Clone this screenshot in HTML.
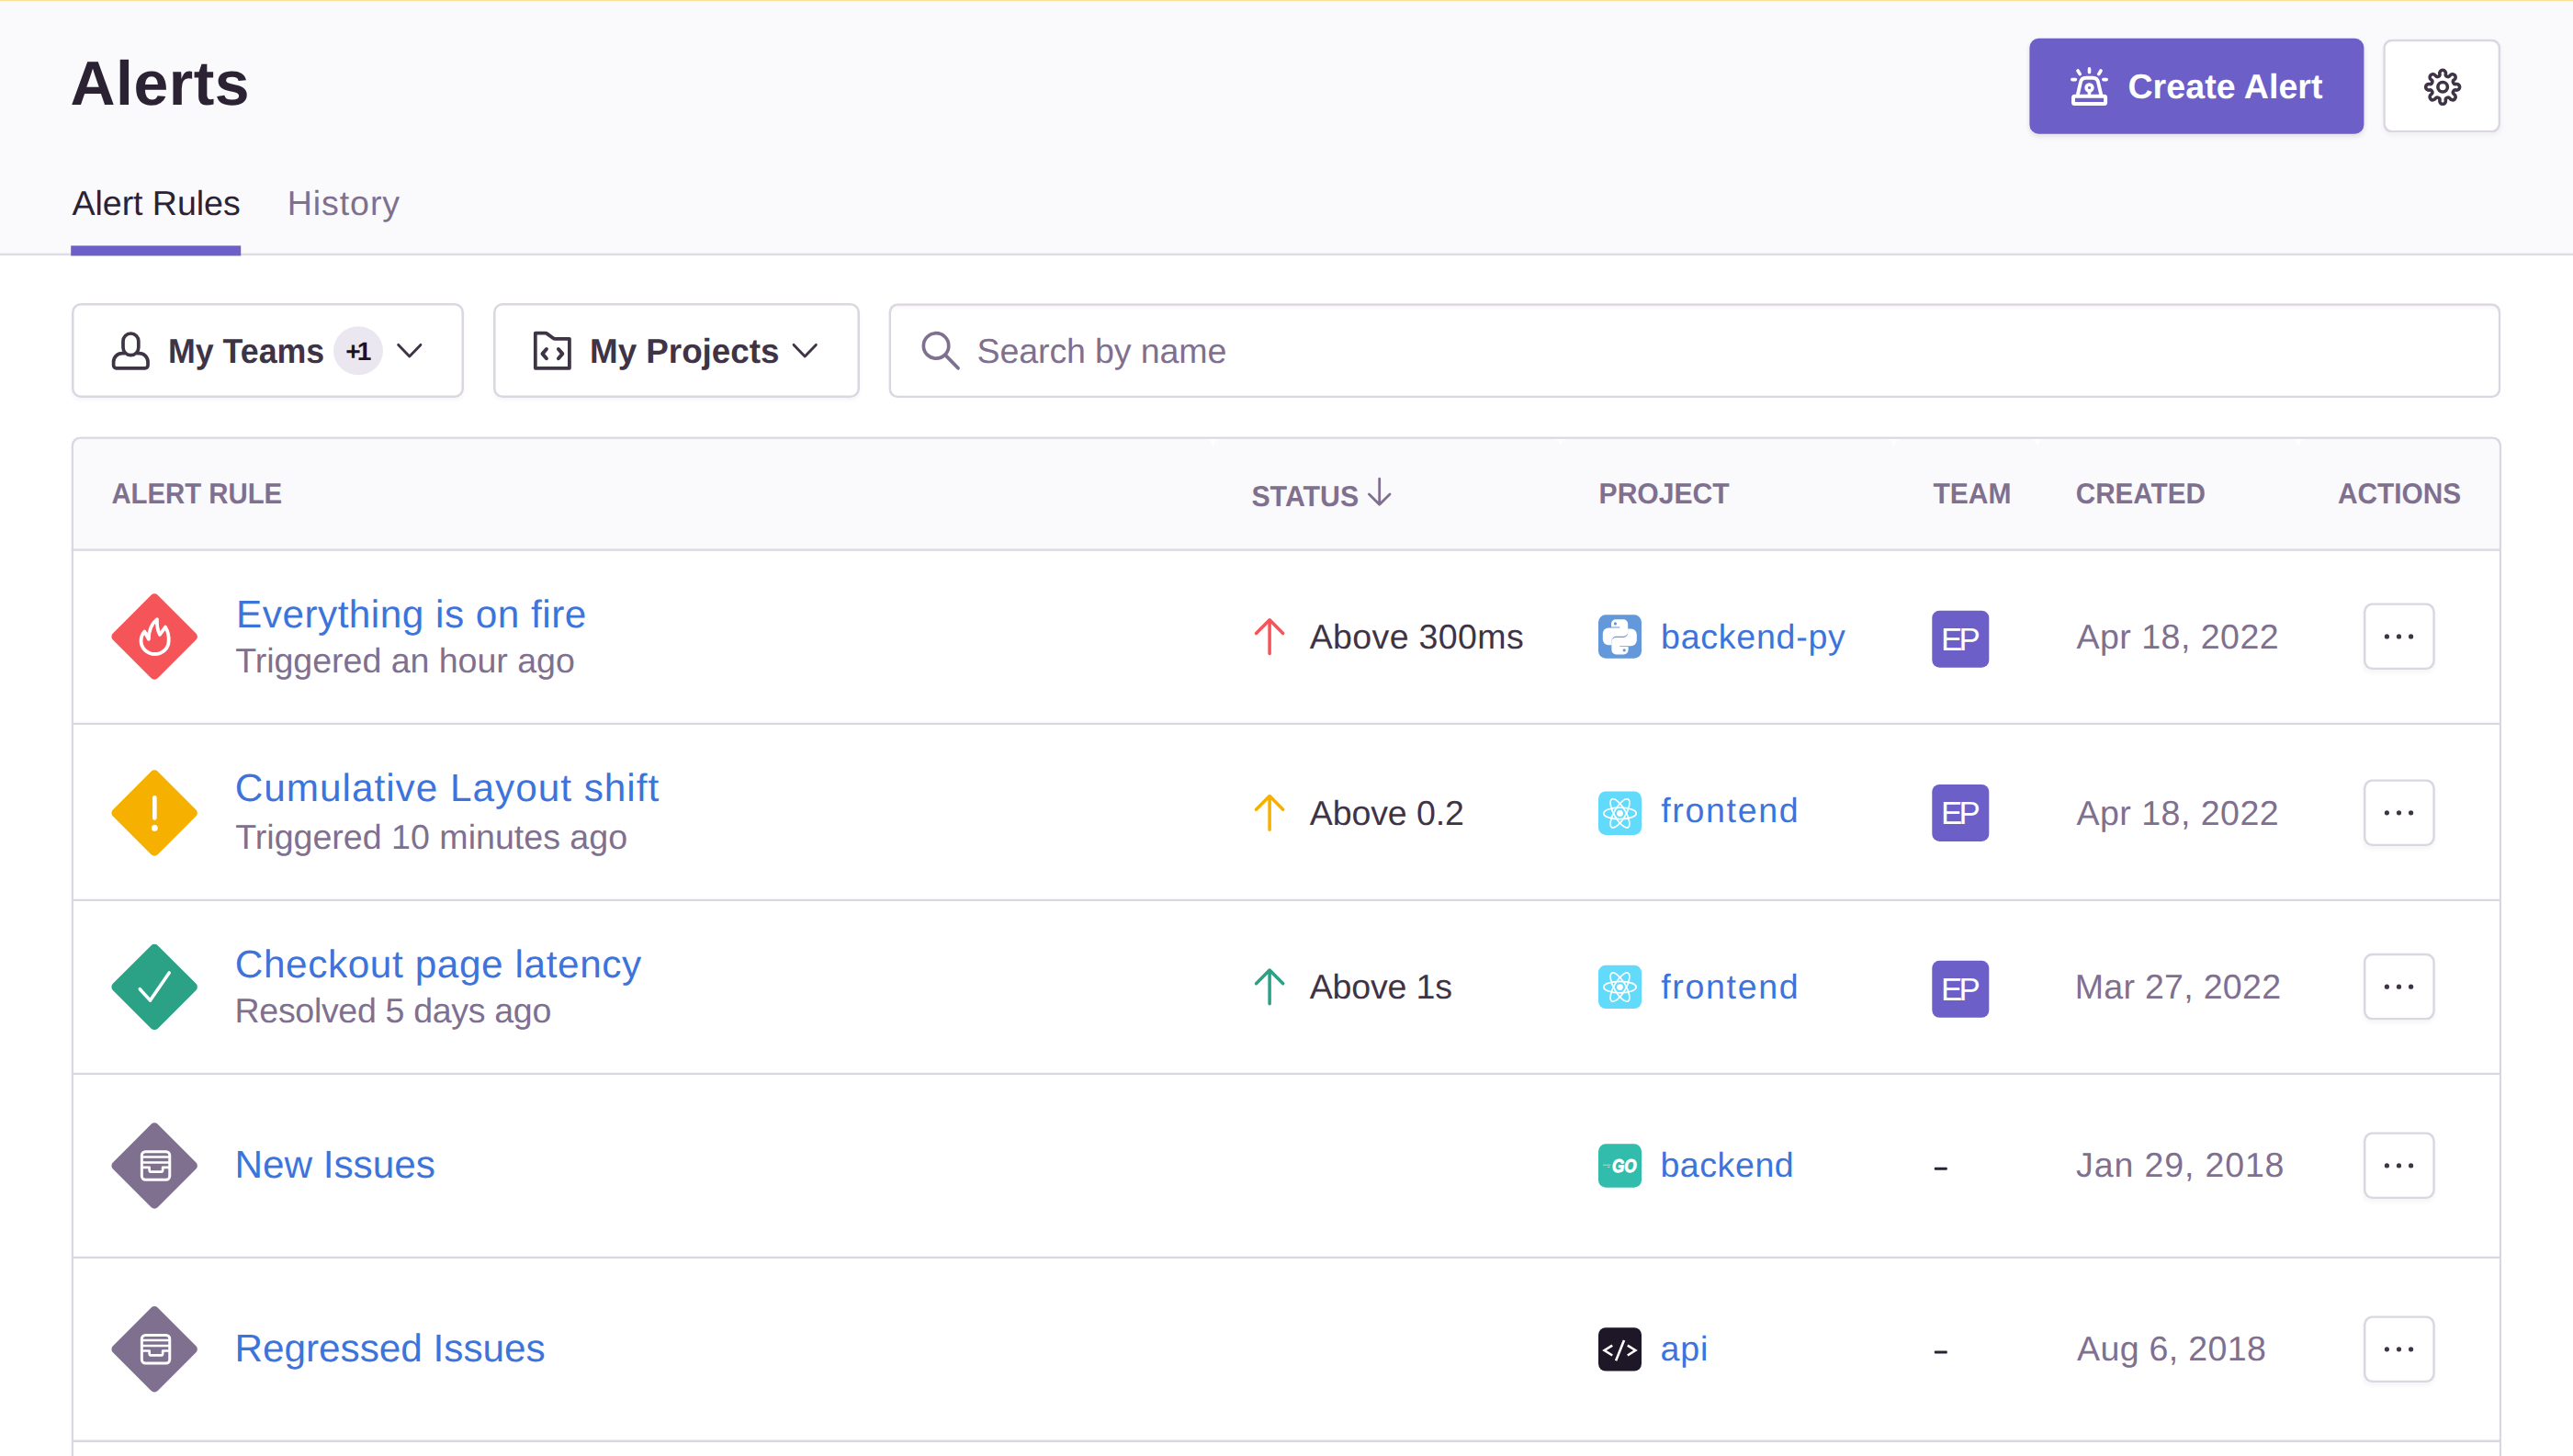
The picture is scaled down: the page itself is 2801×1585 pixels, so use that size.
<!DOCTYPE html>
<html lang="en">
<head>
<meta charset="utf-8">
<title>Alerts</title>
<style>
*{box-sizing:border-box;margin:0;padding:0;text-rendering:geometricPrecision}
html,body{width:2801px;height:1585px;overflow:hidden;background:#fff}
body{font-family:'Liberation Sans',sans-serif;text-rendering:geometricPrecision}
.page{position:absolute;overflow:hidden;background:#fff}
.abs,.t,.i,header,nav,section,.btn,.search,.thead,.th,.row,.avatar,h1,a{position:absolute}
.t,h1,a{white-space:pre;font-weight:400;text-decoration:none;display:block}
.i{display:block;overflow:visible}
.hdr{background:#FAF9FB;box-shadow:inset 0 -.7px 0 #fff,inset 0 -3.26px 0 #E0DCE5}
.btn{background:#fff;border:0;border-radius:10px;font-family:inherit;box-shadow:inset 0 0 0 2.56px #DBD6E1,0 3px 4px rgba(43,34,51,.04)}
.btn.primary{background:#6C5FC7;box-shadow:0 3px 5px rgba(43,34,51,.10)}
.search{background:#fff;border-radius:10px;box-shadow:inset 0 0 0 2.56px #DBD6E1,inset 0 5px 4px rgba(43,34,51,.035)}
.panel{border-radius:10px;background:#fff;overflow:hidden}
.panel::after{content:"";position:absolute;left:0;top:0;right:0;bottom:0;border-radius:10px;box-shadow:inset 0 0 0 2.56px #DBD6E1;pointer-events:none}
.thead{box-shadow:inset 0 -2.56px 0 #DBD6E1}
.th{background:#FAF9FB;border-radius:10px 10px 0 0}
.row{box-shadow:inset 0 -2.56px 0 #DBD6E1}
.avatar{background:#6C5FC7;border-radius:8px}
.more svg{fill:#3E3446}
</style>
</head>
<body>
<div class="page" style="left:0px;top:0px;width:2801px;height:1585px;">
 <header class="hdr" style="left:0px;top:0px;width:2801px;height:279px;">
  <div class="abs" style="left:0px;top:0px;width:2801px;height:2px;background:linear-gradient(#FBDF96 0,#FBDF96 50%,rgba(251,223,150,.1) 50%,rgba(251,223,150,.1) 100%);">
  </div>
  <h1 class="t" style="left:76.50px;top:57.74px;font-size:67.88px;line-height:67.88px;color:#2B2233;letter-spacing:0.540px;font-weight:700;">Alerts</h1>
  <button class="btn primary" style="left:2209px;top:41px;transform:translate(0.4px,0.8px);width:364px;height:104px;">
   <svg viewBox="0 0 70 68" class="i" style="left:30px;top:18px;transform:translate(0.6px,0.2px);width:70px;height:68px;"><rect x="17" y="44.7" width="35.1" height="8.2" rx="1.5" fill="none" stroke="#fff" stroke-width="4"/><path d="M21.6 44.2L25 29.4A6 6 0 0 1 30.8 24.7H38.3A6 6 0 0 1 44.1 29.4L47.5 44.2" fill="none" stroke="#fff" stroke-width="3.9" stroke-linecap="round" stroke-linejoin="round"/><circle cx="34.5" cy="35.5" r="3.4" fill="none" stroke="#fff" stroke-width="3.6"/><path d="M34.5 39.5V44" fill="none" stroke="#fff" stroke-width="3.6" stroke-linecap="round" stroke-linejoin="round"/><path d="M34.5 14.9V18.8M22 17L24.2 20.6M47 17L44.8 20.6M15.8 26.6H19.4M49.8 26.6H53.2" fill="none" stroke="#fff" stroke-width="3.6" stroke-linecap="round" stroke-linejoin="round"/></svg>
   <span class="t" style="left:107px;top:33.95px;font-size:37.57px;line-height:37.57px;color:#FFFFFF;letter-spacing:0.055px;font-weight:700;">Create Alert</span>
  </button>
  <button class="btn" style="left:2594px;top:42px;transform:translate(0.2px,0.6px);width:128px;height:102px;">
   <svg viewBox="0 0 70 68" class="i" style="left:29px;top:17px;transform:translate(0.8px,0.4px);width:70px;height:68px;"><path d="M31.93 20.33A3.3 3.3 0 1 1 38.37 20.33A2.6 2.6 0 0 0 43.10 22.30A3.3 3.3 0 1 1 47.65 26.85A2.6 2.6 0 0 0 49.62 31.58A3.3 3.3 0 1 1 49.62 38.02A2.6 2.6 0 0 0 47.65 42.75A3.3 3.3 0 1 1 43.10 47.30A2.6 2.6 0 0 0 38.37 49.27A3.3 3.3 0 1 1 31.93 49.27A2.6 2.6 0 0 0 27.20 47.30A3.3 3.3 0 1 1 22.65 42.75A2.6 2.6 0 0 0 20.68 38.02A3.3 3.3 0 1 1 20.68 31.58A2.6 2.6 0 0 0 22.65 26.85A3.3 3.3 0 1 1 27.20 22.30A2.6 2.6 0 0 0 31.93 20.33Z" fill="none" stroke="#3E3446" stroke-width="3.6" stroke-linecap="round" stroke-linejoin="round"/><circle cx="35.15" cy="34.8" r="5.25" fill="none" stroke="#3E3446" stroke-width="3.6"/></svg>
  </button>
  <nav class="abs" style="left:0px;top:180px;width:2801px;height:98px;">
   <a class="t" style="left:78.50px;top:23.35px;font-size:37.57px;line-height:37.57px;color:#2B2233;letter-spacing:-0.050px;">Alert Rules</a>
   <a class="t" style="left:312.80px;top:23.35px;font-size:37.57px;line-height:37.57px;color:#80708F;letter-spacing:0.900px;">History</a>
   <div class="abs" style="left:77px;top:87px;transform:translate(0.2px,0.45px);width:185px;height:11px;background:#6C5FC7;">
   </div>
  </nav>
 </header>
 <section class="abs" style="left:0px;top:300px;width:2801px;height:160px;">
  <button class="btn" style="left:78px;top:30px;width:427px;height:103px;">
   <svg viewBox="0 0 70 68" class="i" style="left:30px;top:18px;width:70px;height:68px;"><rect x="26" y="15" width="16.8" height="23.7" rx="8.4" fill="none" stroke="#3E3446" stroke-width="3.7"/><path d="M27.3 36.6H25A9.4 9.4 0 0 0 15.6 46V49.8A3 3 0 0 0 18.6 52.8H50A3 3 0 0 0 53 49.8V46A9.4 9.4 0 0 0 43.6 36.6H41.5" fill="none" stroke="#3E3446" stroke-width="3.7" stroke-linecap="round" stroke-linejoin="round"/></svg>
   <span class="t" style="left:105.04px;top:34.05px;font-size:37.57px;line-height:37.57px;color:#3E3446;font-weight:700;transform:scaleX(0.9517);transform-origin:0 0;">My Teams</span>
   <span class="abs" style="left:285px;top:25px;transform:translate(0px,0.3px);width:54px;height:53px;background:#EBE7F0;border-radius:50%;">
   </span>
   <span class="t" style="left:298.30px;top:39.36px;font-size:28.05px;line-height:28.05px;color:#1D1127;letter-spacing:-4.000px;font-weight:700;">+1</span>
   <svg viewBox="0 0 42 34" class="i" style="left:347px;top:35px;width:42px;height:34px;"><path d="M8.7 10.4L20.8 23L32.9 10.4" fill="none" stroke="#3E3446" stroke-width="2.9" stroke-linecap="round" stroke-linejoin="round"/></svg>
  </button>
  <button class="btn" style="left:537px;top:30px;width:399px;height:103px;">
   <svg viewBox="0 0 70 68" class="i" style="left:29px;top:18px;width:70px;height:68px;"><path d="M16.8 14.7H27.6Q29 14.7 30 15.6L36 20Q37 20.8 38.4 20.8H53.9V52.8H16.8Z" fill="none" stroke="#3E3446" stroke-width="3.8" stroke-linecap="round" stroke-linejoin="round"/><path d="M28.9 32L24.5 37.1L28.9 42.2M41.9 32L46.3 37.1L41.9 42.2" fill="none" stroke="#3E3446" stroke-width="4" stroke-linecap="round" stroke-linejoin="round"/></svg>
   <span class="t" style="left:104.86px;top:34.05px;font-size:37.57px;line-height:37.57px;color:#3E3446;font-weight:700;transform:scaleX(0.9791);transform-origin:0 0;">My Projects</span>
   <svg viewBox="0 0 42 34" class="i" style="left:318px;top:35px;transform:translate(0.4px,0px);width:42px;height:34px;"><path d="M8.7 10.4L20.8 23L32.9 10.4" fill="none" stroke="#3E3446" stroke-width="2.9" stroke-linecap="round" stroke-linejoin="round"/></svg>
  </button>
  <div class="search" style="left:967px;top:30px;transform:translate(0.4px,0.2px);width:1755px;height:103px;">
   <svg viewBox="0 0 70 68" class="i" style="left:22px;top:17px;transform:translate(0.6px,0.8px);width:70px;height:68px;"><circle cx="29.05" cy="28.4" r="13.7" fill="none" stroke="#80708F" stroke-width="3.7"/><path d="M39.2 38.6L53 52.8" fill="none" stroke="#80708F" stroke-width="3.8" stroke-linecap="round" stroke-linejoin="round"/></svg>
   <span class="t" style="left:96.20px;top:33.85px;font-size:37.57px;line-height:37.57px;color:#80708F;letter-spacing:-0.138px;">Search by name</span>
  </div>
 </section>
 <section class="panel" style="left:77px;top:475px;transform:translate(0.4px,0.3px);width:2646px;height:1140px;">
  <div class="thead" style="left:0px;top:0px;transform:translate(0px,0.5px);width:2646px;height:124px;">
   <div class="th" style="left:0px;top:1px;transform:translate(0px,0.44px);width:1243px;height:120px;">
    <span class="t" style="left:43.67px;top:44.81px;font-size:31.54px;line-height:31.54px;color:#80708F;font-weight:700;transform:scaleX(0.9303);transform-origin:0 0;">ALERT RULE</span>
   </div>
   <div class="th" style="left:1243px;top:1px;transform:translate(0px,0.44px);width:379px;height:120px;">
    <span class="t" style="left:42.04px;top:48.41px;font-size:31.54px;line-height:31.54px;color:#80708F;font-weight:700;transform:scaleX(0.9613);transform-origin:0 0;">STATUS</span>
    <svg viewBox="0 0 34 40" class="i" style="left:164px;top:37px;transform:translate(0.6px,0.76px);width:34px;height:40px;"><path d="M16.7 6.2V34.2M5.4 22.9L16.7 34.2L28 22.9" fill="none" stroke="#80708F" stroke-width="2.8" stroke-linecap="round" stroke-linejoin="round"/></svg>
   </div>
   <div class="th" style="left:1621px;top:1px;transform:translate(0.2px,0.44px);width:363px;height:120px;">
    <span class="t" style="left:42.09px;top:44.81px;font-size:31.54px;line-height:31.54px;color:#80708F;font-weight:700;transform:scaleX(0.9537);transform-origin:0 0;">PROJECT</span>
   </div>
   <div class="th" style="left:1984px;top:1px;transform:translate(0px,0.44px);width:157px;height:120px;">
    <span class="t" style="left:43.30px;top:44.81px;font-size:31.54px;line-height:31.54px;color:#80708F;font-weight:700;transform:scaleX(0.9517);transform-origin:0 0;">TEAM</span>
   </div>
   <div class="th" style="left:2140px;top:1px;transform:translate(0.3px,0.44px);width:285px;height:120px;">
    <span class="t" style="left:41.76px;top:44.81px;font-size:31.54px;line-height:31.54px;color:#80708F;font-weight:700;transform:scaleX(0.9412);transform-origin:0 0;">CREATED</span>
   </div>
   <div class="th" style="left:2424px;top:1px;transform:translate(0.5px,0.44px);width:222px;height:120px;">
    <span class="t" style="left:42.65px;top:44.81px;font-size:31.54px;line-height:31.54px;color:#80708F;font-weight:700;transform:scaleX(0.9464);transform-origin:0 0;">ACTIONS</span>
   </div>
  </div>
  <div class="row" style="left:1px;top:123px;transform:translate(0px,0.9px);width:2644px;height:190px;">
   <svg viewBox="0 0 110 110" class="i" style="left:34px;top:38px;transform:translate(0.75px,0.8px);width:110px;height:110px;"><rect x="20.5" y="20.5" width="69.0" height="69.0" rx="5" fill="#F55459" transform="rotate(45 55 55)"/><path d="M40.4 59.7C40.4 55 42 52 44.2 49.5L48.7 57.8C48.7 49 52 41 57.8 36.3C57.5 43 58.5 48.5 60.8 52.9L66.9 44.6C69.5 49 70.8 54 70.5 59.7A15.05 14.3 0 0 1 40.4 59.7Z" fill="none" stroke="#fff" stroke-width="3.8" stroke-linecap="round" stroke-linejoin="round"/></svg>
   <a class="t" style="left:178.70px;top:49.24px;font-size:42.3px;line-height:42.3px;color:#3D74DB;letter-spacing:0.485px;">Everything is on fire</a>
   <span class="t" style="left:177.80px;top:102.15px;font-size:37.57px;line-height:37.57px;color:#80708F;letter-spacing:-0.035px;">Triggered an hour ago</span>
   <svg viewBox="0 0 44 50" class="i" style="left:1281px;top:69px;transform:translate(0.7px,0px);width:44px;height:50px;"><path d="M22 6.6V43.4M7.4 21.3L22 6.6L36.6 21.3" fill="none" stroke="#F55459" stroke-width="3.5" stroke-linecap="round" stroke-linejoin="round"/></svg>
   <span class="t" style="left:1347.30px;top:76.35px;font-size:37.57px;line-height:37.57px;color:#3E3446;letter-spacing:0.330px;">Above 300ms</span>
   <svg viewBox="0 0 47 47.4" class="i" style="left:1661px;top:70px;transform:translate(0.6px,0.1px);width:47px;height:47.4px;"><rect width="47" height="47.4" rx="8" fill="#6398DB"/><path d="M11 14.2H23.3V13.3H14V9.9A5 5 0 0 1 19 4.9H27.2A5 5 0 0 1 32.2 9.9V18.5A5 5 0 0 1 27.2 23.5H19.5A5 5 0 0 0 14.5 28.5V32.9H11A6.2 6.2 0 0 1 4.8 26.7V20.4A6.2 6.2 0 0 1 11 14.2Z" fill="#fff"/><path d="M11 14.2H23.3V13.3H14V9.9A5 5 0 0 1 19 4.9H27.2A5 5 0 0 1 32.2 9.9V18.5A5 5 0 0 1 27.2 23.5H19.5A5 5 0 0 0 14.5 28.5V32.9H11A6.2 6.2 0 0 1 4.8 26.7V20.4A6.2 6.2 0 0 1 11 14.2Z" fill="#fff" transform="rotate(180 23.3 24.05)"/><circle cx="18.4" cy="9.6" r="1.6" fill="#6398DB"/><circle cx="28.2" cy="38.5" r="1.6" fill="#6398DB"/></svg>
   <a class="t" style="left:1729.70px;top:76.35px;font-size:37.57px;line-height:37.57px;color:#3D74DB;letter-spacing:0.733px;">backend-py</a>
   <span class="avatar" style="left:2024px;top:65px;transform:translate(0.9px,0.5px);width:62px;height:62px;">
    <span class="t" style="left:9.70px;top:14.97px;font-size:34.88px;line-height:34.88px;color:#FFFFFF;letter-spacing:-3.700px;">EP</span>
   </span>
   <span class="t" style="left:2182px;top:76.35px;font-size:37.57px;line-height:37.57px;color:#80708F;letter-spacing:0.473px;">Apr 18, 2022</span>
   <button class="btn more" style="left:2494px;top:57px;transform:translate(0.5px,0.1px);width:78px;height:73px;">
    <svg viewBox="0 0 50 22" class="i" style="left:14px;top:25px;transform:translate(0px,0.5px);width:50px;height:22px;"><circle cx="11.5" cy="11.1" r="2.6"/><circle cx="24.6" cy="11.1" r="2.6"/><circle cx="37.7" cy="11.1" r="2.6"/></svg>
   </button>
  </div>
  <div class="row" style="left:1px;top:313px;transform:translate(0px,0.9px);width:2644px;height:192px;">
   <svg viewBox="0 0 110 110" class="i" style="left:34px;top:40px;transform:translate(0.75px,0.8px);width:110px;height:110px;"><rect x="20.5" y="20.5" width="69.0" height="69.0" rx="5" fill="#F5B000" transform="rotate(45 55 55)"/><path d="M55.2 38.3V60.5" fill="none" stroke="#fff" stroke-width="4.6" stroke-linecap="round" stroke-linejoin="round"/><circle cx="55.2" cy="71.4" r="3.4" fill="#fff"/></svg>
   <a class="t" style="left:177.40px;top:48.14px;font-size:42.3px;line-height:42.3px;color:#3D74DB;letter-spacing:0.991px;">Cumulative Layout shift</a>
   <span class="t" style="left:177.80px;top:103.55px;font-size:37.57px;line-height:37.57px;color:#80708F;letter-spacing:0.009px;">Triggered 10 minutes ago</span>
   <svg viewBox="0 0 44 50" class="i" style="left:1281px;top:70px;transform:translate(0.7px,0.7px);width:44px;height:50px;"><path d="M22 6.6V43.4M7.4 21.3L22 6.6L36.6 21.3" fill="none" stroke="#F5B000" stroke-width="3.5" stroke-linecap="round" stroke-linejoin="round"/></svg>
   <span class="t" style="left:1347.30px;top:77.55px;font-size:37.57px;line-height:37.57px;color:#3E3446;letter-spacing:-0.125px;">Above 0.2</span>
   <svg viewBox="0 0 47 47.4" class="i" style="left:1661px;top:72px;transform:translate(0.6px,0.3px);width:47px;height:47.4px;"><rect width="47" height="47.4" rx="8" fill="#61DAFB"/><ellipse cx="23.5" cy="23.9" rx="17.7" ry="6.3" fill="none" stroke="#fff" stroke-width="1.7" transform="rotate(0 23.5 23.9)"/><ellipse cx="23.5" cy="23.9" rx="17.7" ry="6.3" fill="none" stroke="#fff" stroke-width="1.7" transform="rotate(60 23.5 23.9)"/><ellipse cx="23.5" cy="23.9" rx="17.7" ry="6.3" fill="none" stroke="#fff" stroke-width="1.7" transform="rotate(120 23.5 23.9)"/><circle cx="23.5" cy="23.9" r="3.4" fill="#fff"/></svg>
   <a class="t" style="left:1729.90px;top:75.35px;font-size:37.57px;line-height:37.57px;color:#3D74DB;letter-spacing:1.643px;">frontend</a>
   <span class="avatar" style="left:2024px;top:64px;transform:translate(0.9px,0.7px);width:62px;height:62px;">
    <span class="t" style="left:9.70px;top:14.97px;font-size:34.88px;line-height:34.88px;color:#FFFFFF;letter-spacing:-3.700px;">EP</span>
   </span>
   <span class="t" style="left:2182px;top:77.55px;font-size:37.57px;line-height:37.57px;color:#80708F;letter-spacing:0.473px;">Apr 18, 2022</span>
   <button class="btn more" style="left:2494px;top:59px;transform:translate(0.5px,-0px);width:78px;height:73px;">
    <svg viewBox="0 0 50 22" class="i" style="left:14px;top:25px;transform:translate(0px,0.5px);width:50px;height:22px;"><circle cx="11.5" cy="11.1" r="2.6"/><circle cx="24.6" cy="11.1" r="2.6"/><circle cx="37.7" cy="11.1" r="2.6"/></svg>
   </button>
  </div>
  <div class="row" style="left:1px;top:505px;transform:translate(0px,0.1px);width:2644px;height:190px;">
   <svg viewBox="0 0 110 110" class="i" style="left:34px;top:39px;transform:translate(0.75px,0px);width:110px;height:110px;"><rect x="20.5" y="20.5" width="69.0" height="69.0" rx="5" fill="#2BA185" transform="rotate(45 55 55)"/><path d="M39.15 57.3L50.35 69.7L71.05 39.5" fill="none" stroke="#fff" stroke-width="3.6" stroke-linecap="round" stroke-linejoin="round"/></svg>
   <a class="t" style="left:177.40px;top:49.24px;font-size:42.3px;line-height:42.3px;color:#3D74DB;letter-spacing:0.605px;">Checkout page latency</a>
   <span class="t" style="left:177.20px;top:102.15px;font-size:37.57px;line-height:37.57px;color:#80708F;letter-spacing:-0.339px;">Resolved 5 days ago</span>
   <svg viewBox="0 0 44 50" class="i" style="left:1281px;top:69px;transform:translate(0.7px,0px);width:44px;height:50px;"><path d="M22 6.6V43.4M7.4 21.3L22 6.6L36.6 21.3" fill="none" stroke="#2BA185" stroke-width="3.5" stroke-linecap="round" stroke-linejoin="round"/></svg>
   <span class="t" style="left:1347.30px;top:75.95px;font-size:37.57px;line-height:37.57px;color:#3E3446;letter-spacing:-0.186px;">Above 1s</span>
   <svg viewBox="0 0 47 47.4" class="i" style="left:1661px;top:70px;transform:translate(0.6px,0.3px);width:47px;height:47.4px;"><rect width="47" height="47.4" rx="8" fill="#61DAFB"/><ellipse cx="23.5" cy="23.9" rx="17.7" ry="6.3" fill="none" stroke="#fff" stroke-width="1.7" transform="rotate(0 23.5 23.9)"/><ellipse cx="23.5" cy="23.9" rx="17.7" ry="6.3" fill="none" stroke="#fff" stroke-width="1.7" transform="rotate(60 23.5 23.9)"/><ellipse cx="23.5" cy="23.9" rx="17.7" ry="6.3" fill="none" stroke="#fff" stroke-width="1.7" transform="rotate(120 23.5 23.9)"/><circle cx="23.5" cy="23.9" r="3.4" fill="#fff"/></svg>
   <a class="t" style="left:1729.90px;top:75.95px;font-size:37.57px;line-height:37.57px;color:#3D74DB;letter-spacing:1.643px;">frontend</a>
   <span class="avatar" style="left:2024px;top:65px;transform:translate(0.9px,0.4px);width:62px;height:62px;">
    <span class="t" style="left:9.70px;top:14.97px;font-size:34.88px;line-height:34.88px;color:#FFFFFF;letter-spacing:-3.700px;">EP</span>
   </span>
   <span class="t" style="left:2180.30px;top:75.95px;font-size:37.57px;line-height:37.57px;color:#80708F;letter-spacing:0.273px;">Mar 27, 2022</span>
   <button class="btn more" style="left:2494px;top:57px;transform:translate(0.5px,0.2px);width:78px;height:73px;">
    <svg viewBox="0 0 50 22" class="i" style="left:14px;top:25px;transform:translate(0px,0.5px);width:50px;height:22px;"><circle cx="11.5" cy="11.1" r="2.6"/><circle cx="24.6" cy="11.1" r="2.6"/><circle cx="37.7" cy="11.1" r="2.6"/></svg>
   </button>
  </div>
  <div class="row" style="left:1px;top:694px;transform:translate(0px,0.95px);width:2644px;height:200px;">
   <svg viewBox="0 0 110 110" class="i" style="left:34px;top:43px;transform:translate(0.75px,0.75px);width:110px;height:110px;"><rect x="20.5" y="20.5" width="69.0" height="69.0" rx="5" fill="#80708F" transform="rotate(45 55 55)"/><rect x="41.2" y="39.7" width="30.4" height="30.6" rx="4" fill="none" stroke="#fff" stroke-width="3"/><path d="M41.2 45.4H71.7M41.2 51.4H71.7" fill="none" stroke="#fff" stroke-width="2.5" stroke-linecap="round" stroke-linejoin="round"/><path d="M41.2 56.8H49.5V59.7Q49.5 61.7 51.5 61.7H62.0Q64.0 61.7 64.0 59.7V56.8H71.7" fill="none" stroke="#fff" stroke-width="2.7" stroke-linecap="round" stroke-linejoin="round"/></svg>
   <a class="t" style="left:177.10px;top:77.09px;font-size:42.3px;line-height:42.3px;color:#3D74DB;letter-spacing:-0.033px;">New Issues</a>
   <svg viewBox="0 0 47 47.4" class="i" style="left:1661px;top:75px;transform:translate(0.6px,0.05px);width:47px;height:47.4px;"><rect width="47" height="47.4" rx="8" fill="#31BCAC"/><text x="15.1" y="31.2" font-family="'Liberation Sans',sans-serif" font-size="20" font-weight="700" font-style="italic" fill="#fff" stroke="#fff" stroke-width="1" stroke-linejoin="round" textLength="26.5" lengthAdjust="spacingAndGlyphs">GO</text><path d="M5 22.9H13.4M10 25.2H12.6" stroke="#fff" stroke-width="0.8" fill="none" opacity=".7"/></svg>
   <a class="t" style="left:1729px;top:80.10px;font-size:37.57px;line-height:37.57px;color:#3D74DB;letter-spacing:0.550px;">backend</a>
   <span class="abs" style="left:2027px;top:100px;transform:translate(0.4px,0.45px);width:14px;height:3px;background:#2B2233;border-radius:1px;">
   </span>
   <span class="t" style="left:2181.70px;top:80.10px;font-size:37.57px;line-height:37.57px;color:#80708F;letter-spacing:0.836px;">Jan 29, 2018</span>
   <button class="btn more" style="left:2494px;top:62px;transform:translate(0.5px,0.05px);width:78px;height:73px;">
    <svg viewBox="0 0 50 22" class="i" style="left:14px;top:25px;transform:translate(0px,0.5px);width:50px;height:22px;"><circle cx="11.5" cy="11.1" r="2.6"/><circle cx="24.6" cy="11.1" r="2.6"/><circle cx="37.7" cy="11.1" r="2.6"/></svg>
   </button>
  </div>
  <div class="row" style="left:1px;top:894px;transform:translate(0px,0.7px);width:2644px;height:200px;">
   <svg viewBox="0 0 110 110" class="i" style="left:34px;top:43px;transform:translate(0.75px,0.7px);width:110px;height:110px;"><rect x="20.5" y="20.5" width="69.0" height="69.0" rx="5" fill="#80708F" transform="rotate(45 55 55)"/><rect x="41.2" y="39.7" width="30.4" height="30.6" rx="4" fill="none" stroke="#fff" stroke-width="3"/><path d="M41.2 45.4H71.7M41.2 51.4H71.7" fill="none" stroke="#fff" stroke-width="2.5" stroke-linecap="round" stroke-linejoin="round"/><path d="M41.2 56.8H49.5V59.7Q49.5 61.7 51.5 61.7H62.0Q64.0 61.7 64.0 59.7V56.8H71.7" fill="none" stroke="#fff" stroke-width="2.7" stroke-linecap="round" stroke-linejoin="round"/></svg>
   <a class="t" style="left:177.10px;top:77.04px;font-size:42.3px;line-height:42.3px;color:#3D74DB;letter-spacing:-0.020px;">Regressed Issues</a>
   <svg viewBox="0 0 47 47.4" class="i" style="left:1661px;top:75px;transform:translate(0.6px,0.2px);width:47px;height:47.4px;"><rect width="47" height="47.4" rx="8" fill="#1D1727"/><path d="M15.2 19.4L6.6 24.8L15.2 30.3M28 13.8L19.1 36M31.8 19.4L40.4 24.8L31.8 30.3" fill="none" stroke="#fff" stroke-width="2.6" stroke-linejoin="miter"/></svg>
   <a class="t" style="left:1729px;top:80.35px;font-size:37.57px;line-height:37.57px;color:#3D74DB;letter-spacing:0.850px;">api</a>
   <span class="abs" style="left:2027px;top:100px;transform:translate(0.4px,0.5px);width:14px;height:3px;background:#2B2233;border-radius:1px;">
   </span>
   <span class="t" style="left:2182.70px;top:80.35px;font-size:37.57px;line-height:37.57px;color:#80708F;letter-spacing:0.310px;">Aug 6, 2018</span>
   <button class="btn more" style="left:2494px;top:62px;transform:translate(0.5px,0.2px);width:78px;height:73px;">
    <svg viewBox="0 0 50 22" class="i" style="left:14px;top:25px;transform:translate(0px,0.5px);width:50px;height:22px;"><circle cx="11.5" cy="11.1" r="2.6"/><circle cx="24.6" cy="11.1" r="2.6"/><circle cx="37.7" cy="11.1" r="2.6"/></svg>
   </button>
  </div>
 </section>
</div>
</body>
</html>
